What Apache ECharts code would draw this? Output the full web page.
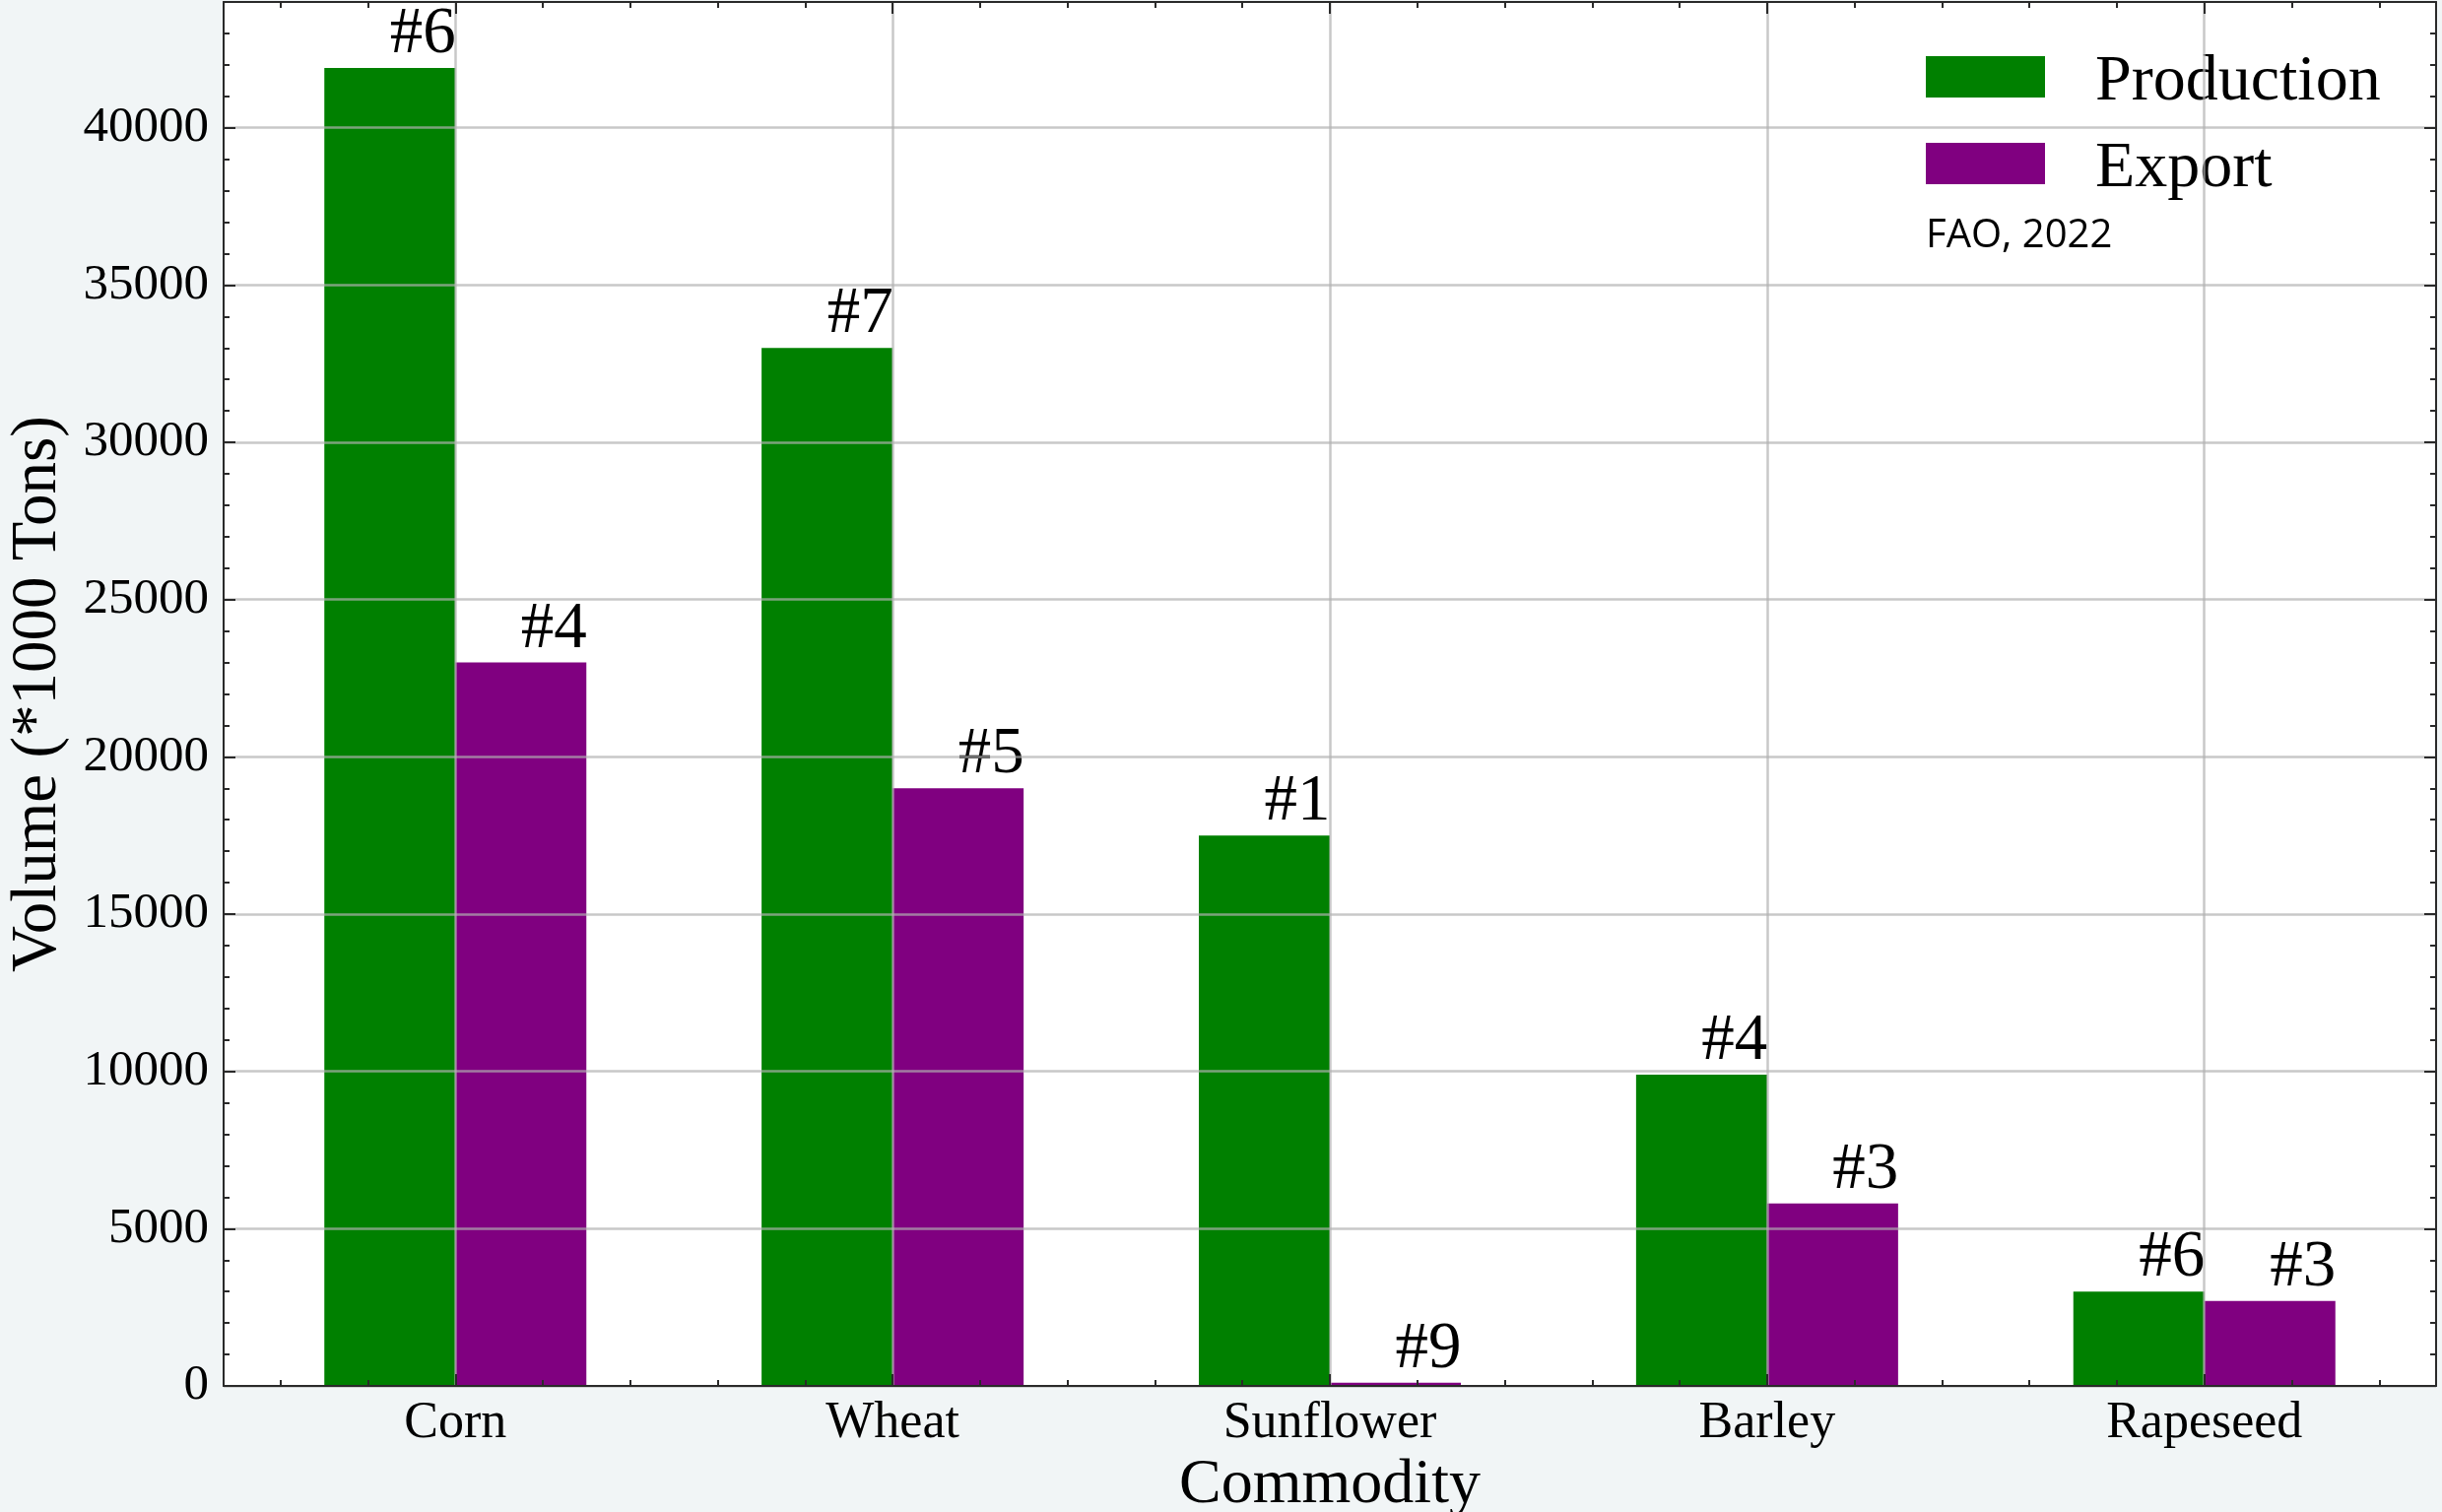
<!DOCTYPE html>
<html>
<head>
<meta charset="utf-8">
<title>Ukraine: production and export by commodity</title>
<script src="https://cdn.jsdelivr.net/npm/echarts@6/dist/echarts.min.js"></script>
<style>
  html, body { margin: 0; padding: 0; background: #f1f5f6; }
  #chart { width: 2479px; height: 1535px; }
</style>
</head>
<body>
<div id="chart"></div>
<script>
// Commodities on the x axis
const categories = ['Corn', 'Wheat', 'Sunflower', 'Barley', 'Rapeseed'];
// Volumes in thousand tons
const production = [41900, 33000, 17500, 9900, 3000];
const exportVolume = [23000, 19000, 100, 5800, 2700];
// World rank labels shown above each bar
const productionRank = ['#6', '#7', '#1', '#4', '#6'];
const exportRank = ['#4', '#5', '#9', '#3', '#3'];
// Tick values
const yMajorTicks = [0, 5000, 10000, 15000, 20000, 25000, 30000, 35000, 40000];
const yMax = 44000;
const xMajorTicks = [0, 1, 2, 3, 4];
const xMin = -0.53, xMax = 4.53;

// Minor ticks: fifths between integer x ticks, thousands between y ticks
const xMinorTicks = [];
for (let k = -2; k <= 22; k++) { if (k % 5 !== 0) xMinorTicks.push(+(k * 0.2).toFixed(1)); }
const yMinorTicks = [];
for (let v = 1000; v < yMax; v += 1000) { if (v % 5000 !== 0) yMinorTicks.push(v); }

const SERIF = '"Liberation Serif", "DejaVu Serif", serif';
const FRAME = '#2a2a2a';
const GRID = 'rgba(176,176,176,0.7)';

function tickAxis(kind, position, values, len, withLine) {
  return {
    type: 'value', position: position,
    min: kind === 'x' ? xMin : 0,
    max: kind === 'x' ? xMax : yMax,
    z: 5,
    axisLine: { show: withLine, onZero: false, lineStyle: { color: FRAME, width: 2 } },
    axisTick: { show: true, inside: true, length: len, customValues: values,
                lineStyle: { color: FRAME, width: 2 } },
    axisLabel: { show: false },
    splitLine: { show: false }
  };
}

const xMain = tickAxis('x', 'bottom', xMajorTicks, 12, true);
xMain.axisLabel = {
  show: true, customValues: xMajorTicks,
  formatter: v => categories[Math.round(v)],
  fontFamily: SERIF, fontSize: 52, color: '#000', margin: 12
};
xMain.splitLine = { show: true, lineStyle: { color: GRID, width: 2.5 } };
xMain.name = 'Commodity';
xMain.nameLocation = 'middle';
xMain.nameGap = 64;
xMain.nameTextStyle = { fontFamily: SERIF, fontSize: 64, color: '#000' };

const yMain = tickAxis('y', 'left', yMajorTicks, 12, true);
yMain.axisLabel = {
  show: true, customValues: yMajorTicks,
  formatter: v => String(v),
  fontFamily: SERIF, fontSize: 51, color: '#000', margin: 15
};
yMain.splitLine = { show: true, lineStyle: { color: GRID, width: 2.5 } };
yMain.name = 'Volume (*1000 Tons)';
yMain.nameLocation = 'middle';
yMain.nameGap = 156;
yMain.nameTextStyle = { fontFamily: SERIF, fontSize: 65, color: '#000' };

function rankLabel(ranks) {
  return {
    show: true, position: 'top', align: 'left', distance: 0,
    formatter: p => ranks[p.dataIndex],
    fontFamily: SERIF, fontSize: 67, color: '#000'
  };
}

const chart = echarts.init(document.getElementById('chart'), null, { renderer: 'canvas' });
chart.setOption({
  backgroundColor: '#f1f5f6',
  animation: false,
  title: {
    text: 'FAO, 2022', left: 1955, top: 220, padding: 0,
    textStyle: { fontFamily: '"Open Sans", sans-serif', fontSize: 40, fontWeight: 'normal', color: '#000' }
  },
  legend: {
    orient: 'vertical', left: 1955, top: 39, padding: 0,
    itemWidth: 121, itemHeight: 42, itemGap: 10, icon: 'rect',
    formatter: '{t|{name}}',
    textStyle: {
      fontFamily: SERIF, fontSize: 66, color: '#000', padding: [0, 0, 0, 46],
      rich: { t: { fontFamily: SERIF, fontSize: 66, color: '#000', lineHeight: 64, padding: [12, 0, 0, 0] } }
    },
    data: ['Production', 'Export']
  },
  grid: {
    left: 227, right: 6, top: 2, bottom: 128,
    outerBoundsMode: 'none',
    containLabel: false,
    show: true, backgroundColor: '#ffffff', borderWidth: 0
  },
  xAxis: [
    xMain,
    tickAxis('x', 'bottom', xMinorTicks, 6, false),
    tickAxis('x', 'top', xMajorTicks, 12, true),
    tickAxis('x', 'top', xMinorTicks, 6, false)
  ],
  yAxis: [
    yMain,
    tickAxis('y', 'left', yMinorTicks, 6, false),
    tickAxis('y', 'right', yMajorTicks, 12, true),
    tickAxis('y', 'right', yMinorTicks, 6, false)
  ],
  series: [
    {
      name: 'Production', type: 'bar', xAxisIndex: 0, yAxisIndex: 0,
      barWidth: 133, barGap: '0%',
      itemStyle: { color: '#008000' },
      label: rankLabel(productionRank),
      data: categories.map((c, i) => [i, production[i]])
    },
    {
      name: 'Export', type: 'bar', xAxisIndex: 0, yAxisIndex: 0,
      barWidth: 133, barGap: '0%',
      itemStyle: { color: '#800080' },
      label: rankLabel(exportRank),
      data: categories.map((c, i) => [i, exportVolume[i]])
    }
  ]
});
</script>
</body>
</html>
